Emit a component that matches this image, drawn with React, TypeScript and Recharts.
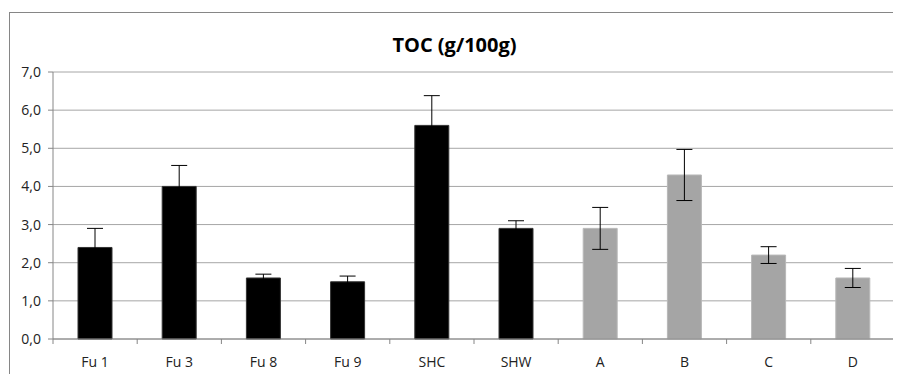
import { BarChart, Bar, XAxis, YAxis, CartesianGrid, ErrorBar, Cell } from 'recharts';

const categories = ['Fu 1', 'Fu 3', 'Fu 8', 'Fu 9', 'SHC', 'SHW', 'A', 'B', 'C', 'D'];
const tocValues = [2.4, 4.0, 1.6, 1.5, 5.6, 2.9, 2.9, 4.3, 2.2, 1.6];
const tocErrors = [0.5, 0.55, 0.1, 0.15, 0.78, 0.2, 0.55, 0.67, 0.22, 0.25];
const barColors = ['#000000', '#000000', '#000000', '#000000', '#000000', '#000000', '#a5a5a5', '#a5a5a5', '#a5a5a5', '#a5a5a5'];
const yTicks = [0, 1, 2, 3, 4, 5, 6, 7];

const data = categories.map((name, i) => ({ name, toc: tocValues[i], err: tocErrors[i] }));

const FONT = '"Open Sans", "Noto Sans", sans-serif';

// label at the category centre, tick mark at the category boundary (Excel style)
function CategoryTick(props: any) {
  const { x, y, payload, index } = props;
  const half = 842 / categories.length / 2;
  return (
    <g>
      <line x1={x - half} y1={y - 8} x2={x - half} y2={y - 3} stroke="#868686" />
      {index === categories.length - 1 && (
        <line x1={x + half} y1={y - 8} x2={x + half} y2={y - 3} stroke="#868686" />
      )}
      <text x={x} y={y + 20} textAnchor="middle" fontSize={14} fill="#222" fontFamily={FONT}>
        {payload.value}
      </text>
    </g>
  );
}

export default function App() {
  return (
    <div style={{ position: 'relative', width: 893, height: 366, overflow: 'hidden', background: '#fff' }}>
      <div
        style={{
          position: 'absolute',
          left: 1,
          top: 4,
          width: 1000,
          height: 1000,
          borderLeft: '1px solid #868686',
          borderTop: '1px solid #868686',
          boxSizing: 'border-box',
        }}
      />
      <div
        style={{
          position: 'absolute',
          left: 0,
          top: 23,
          width: 893,
          textAlign: 'center',
          fontFamily: FONT,
          fontWeight: 700,
          fontSize: 20,
          color: '#000',
        }}
      >
        TOC (g/100g)
      </div>
      <div style={{ position: 'absolute', left: 0, top: 0 }}>
        <BarChart
          width={893}
          height={366}
          data={data}
          margin={{ top: 64, right: 6, left: 0, bottom: 0 }}
          barSize={34}
        >
          <CartesianGrid vertical={false} stroke="#a6a6a6" />
          <XAxis
            dataKey="name"
            height={35}
            axisLine={{ stroke: '#868686' }}
            tickLine={false}
            tick={<CategoryTick />}
            interval={0}
          />
          <YAxis
            width={45}
            domain={[0, 7]}
            ticks={yTicks}
            interval={0}
            axisLine={{ stroke: '#868686' }}
            tickLine={{ stroke: '#868686' }}
            tickSize={5}
            tickMargin={7}
            tickFormatter={(v: number) => v.toFixed(1).replace('.', ',')}
            tick={{ fontSize: 14, fill: '#222', fontFamily: FONT }}
          />
          <Bar dataKey="toc" isAnimationActive={false} strokeWidth={1}>
            {data.map((d, i) => (
              <Cell key={d.name} fill={barColors[i]} stroke={i < 6 ? '#333333' : '#b8b8b8'} />
            ))}
            <ErrorBar dataKey="err" width={8} stroke="#000000" strokeOpacity={1} strokeWidth={1} isAnimationActive={false} />
          </Bar>
        </BarChart>
      </div>
    </div>
  );
}
